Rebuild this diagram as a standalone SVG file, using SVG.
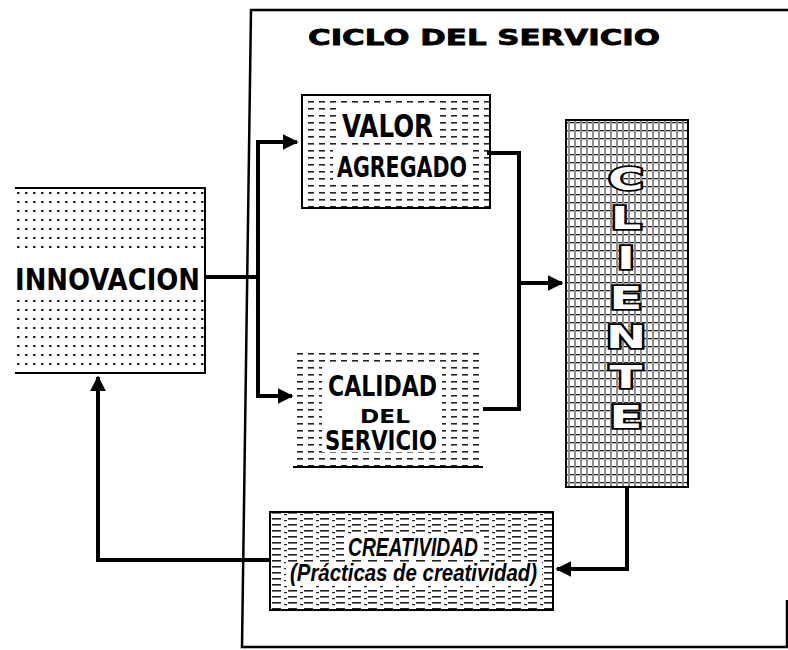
<svg xmlns="http://www.w3.org/2000/svg" width="788" height="650" viewBox="0 0 788 650">
<defs>
<pattern id="dots" width="8" height="9" patternUnits="userSpaceOnUse">
<rect x="1" y="3" width="2.5" height="2" fill="#222"/>
</pattern>
<pattern id="dash" width="11" height="7" patternUnits="userSpaceOnUse">
<rect x="0" y="3" width="6" height="1.6" fill="#222"/>
</pattern>
<pattern id="grid" width="6" height="8" patternUnits="userSpaceOnUse">
<rect x="0" y="2" width="4" height="1.3" fill="#222"/>
<rect x="4.5" y="0" width="1" height="8" fill="#222"/>
</pattern>
<pattern id="dense" width="16" height="6" patternUnits="userSpaceOnUse">
<rect x="0" y="2" width="9" height="1.6" fill="#222"/>
<rect x="12" y="4" width="3" height="1.2" fill="#222"/>
</pattern>
<marker id="ah" viewBox="0 0 10 10" refX="9" refY="5" markerWidth="4" markerHeight="4" orient="auto" markerUnits="strokeWidth">
<path d="M0 0 L10 5 L0 10 Z" fill="#000"/>
</marker>
</defs>
<style>
.frame{fill:none;stroke:#000;stroke-width:2.5}
.conn{fill:none;stroke:#000;stroke-width:4;stroke-linejoin:miter}
.box{stroke:#000;stroke-width:2}
.hand{font-family:"DejaVu Sans","Liberation Sans",sans-serif;font-weight:bold;fill:#000}
.it{font-family:"Liberation Sans","DejaVu Sans",sans-serif;font-weight:bold;font-style:italic;fill:#000}
.big{font-family:"DejaVu Sans",sans-serif;font-weight:bold;fill:#fff;stroke:#000;stroke-width:3.5;paint-order:stroke;writing-mode:vertical-rl;text-orientation:upright;letter-spacing:2px}
</style>
<rect width="788" height="650" fill="#fff"/>
<g id="frame">
<path class="frame" d="M788 10 H251 L242 647 H787 V600"/>
<text class="hand" x="308" y="45" font-size="21" font-weight="normal" stroke="#000" stroke-width="0.8" textLength="352" lengthAdjust="spacingAndGlyphs">CICLO DEL SERVICIO</text>
</g>
<g id="innovacion">
<rect x="15" y="188" width="190" height="185" fill="url(#dots)"/>
<rect x="12" y="252" width="192" height="48" fill="#fff"/>
<path class="box" fill="none" d="M15 188 H205 V373 H15"/>
<text class="hand" x="15" y="290" font-size="31" textLength="185" lengthAdjust="spacingAndGlyphs">INNOVACION</text>
</g>
<g id="valor">
<rect class="box" x="302" y="95" width="188" height="113" fill="url(#dash)"/>
<rect x="338" y="108" width="102" height="34" fill="#fff"/>
<rect x="333" y="150" width="137" height="32" fill="#fff"/>
<text class="hand" font-size="32"><tspan x="342" y="137" textLength="91" lengthAdjust="spacingAndGlyphs">VALOR</tspan><tspan x="337" y="177" font-size="29" textLength="130" lengthAdjust="spacingAndGlyphs">AGREGADO</tspan></text>
</g>
<g id="calidad">
<rect x="293" y="352" width="190" height="115" fill="url(#dash)"/>
<path class="box" fill="none" d="M293 467 H483"/>
<rect x="322" y="366" width="120" height="86" fill="#fff"/>
<text class="hand" font-size="29"><tspan x="328" y="396" textLength="109" lengthAdjust="spacingAndGlyphs">CALIDAD</tspan><tspan x="360" y="423" font-size="20" textLength="50" lengthAdjust="spacingAndGlyphs">DEL</tspan><tspan x="325" y="450" font-size="26" textLength="112" lengthAdjust="spacingAndGlyphs">SERVICIO</tspan></text>
</g>
<g id="cliente">
<rect class="box" x="566" y="120" width="122" height="367" fill="url(#grid)"/>
<g transform="translate(626 0) scale(1.5 1) translate(-626 0)">
<text class="big" x="626" y="160" font-size="32">CLIENTE</text>
</g>
</g>
<g id="creatividad">
<rect class="box" x="270" y="512" width="283" height="98" fill="url(#dense)"/>
<rect x="344" y="534" width="140" height="26" fill="#fff"/>
<rect x="286" y="562" width="256" height="24" fill="#fff"/>
<text class="it" font-size="25"><tspan x="348" y="556" textLength="130" lengthAdjust="spacingAndGlyphs">CREATIVIDAD</tspan><tspan x="290" y="581" font-size="23" textLength="247" lengthAdjust="spacingAndGlyphs">(Prácticas de creatividad)</tspan></text>
</g>
<g id="connectors">
<path class="conn" d="M205 277 H258"/>
<path class="conn" d="M258 142 V396"/>
<path class="conn" marker-end="url(#ah)" d="M256 142 H297"/>
<path class="conn" marker-end="url(#ah)" d="M256 396 H292"/>
<path class="conn" d="M487 153 H519 V409 H483"/>
<path class="conn" marker-end="url(#ah)" d="M519 283 H562"/>
<path class="conn" marker-end="url(#ah)" d="M627 487 V569 H557"/>
<path class="conn" marker-end="url(#ah)" d="M270 560 H98 V377"/>
</g>
</svg>
